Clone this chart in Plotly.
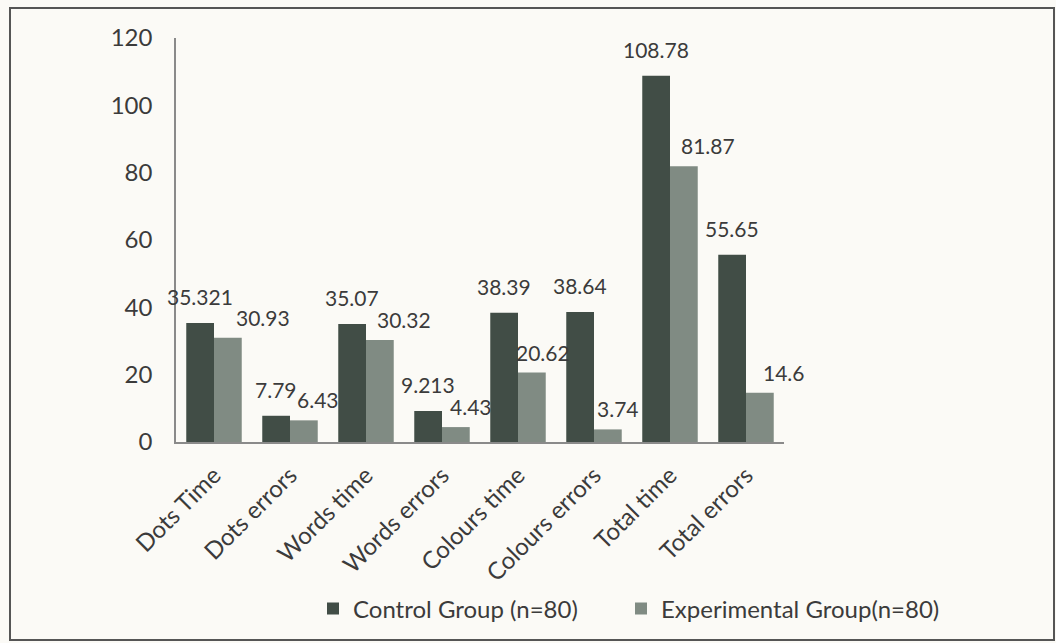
import plotly.graph_objects as go

# Stroop-type task measures per group
categories = ["Dots Time", "Dots errors", "Words time", "Words errors",
              "Colours time", "Colours errors", "Total time", "Total errors"]
control = [35.321, 7.79, 35.07, 9.213, 38.39, 38.64, 108.78, 55.65]
experimental = [30.93, 6.43, 30.32, 4.43, 20.62, 3.74, 81.87, 14.6]
control_text = ["35.321", "7.79", "35.07", "9.213", "38.39", "38.64", "108.78", "55.65"]
experimental_text = ["30.93", "6.43", "30.32", "4.43", "20.62", "3.74", "81.87", "14.6"]
y_ticks = [0, 20, 40, 60, 80, 100, 120]

FONT = "Lato"
TEXT = "#3b3b3b"
DARK = "#414d46"
LIGHT = "#808b83"
BG = "#fbfaf6"

# horizontal nudges (px) of the experimental-group labels, right of their bars
exp_label_nudge = [35, 14, 24, 15, 11, 10, 24, 24]
HALF_BAR = 14  # half a bar width in px

fig = go.Figure()
fig.add_bar(x=categories, y=control, name="Control Group (n=80)",
            marker=dict(color=DARK, line=dict(width=0)), legend="legend")
fig.add_bar(x=categories, y=experimental, name="Experimental Group(n=80)",
            marker=dict(color=LIGHT, line=dict(width=0)), legend="legend2")

# value labels above the bars
annotations = []
for cat, v, t in zip(categories, control, control_text):
    annotations.append(dict(x=cat, y=v, text=t, xref="x", yref="y",
                            showarrow=False, yanchor="bottom",
                            xshift=-HALF_BAR, yshift=12,
                            font=dict(family=FONT, size=21, color=TEXT)))
for cat, v, t, dx in zip(categories, experimental, experimental_text, exp_label_nudge):
    annotations.append(dict(x=cat, y=v, text=t, xref="x", yref="y",
                            showarrow=False, yanchor="bottom",
                            xshift=HALF_BAR + dx, yshift=6,
                            font=dict(family=FONT, size=21, color=TEXT)))

legend_style = dict(orientation="h", xref="container", yref="container",
                    y=1 - 609 / 643, xanchor="left", yanchor="middle",
                    font=dict(family=FONT, size=24, color=TEXT),
                    itemwidth=30, bgcolor="rgba(0,0,0,0)")

fig.update_layout(
    width=1056, height=643,
    margin=dict(l=176, r=272, t=38, b=201, autoexpand=False),
    paper_bgcolor=BG, plot_bgcolor=BG,
    barmode="group", bargap=0.27, bargroupgap=0,
    font=dict(family=FONT, color=TEXT),
    annotations=annotations,
    showlegend=True,
    legend=dict(x=313 / 1056, **legend_style),
    legend2=dict(x=621 / 1056, **legend_style),
    xaxis=dict(range=[-0.5, 7.5], showline=True, linecolor="#8a8a8a", linewidth=1.5,
               tickangle=-45, tickfont=dict(family=FONT, size=24, color=TEXT),
               showgrid=False, ticks="", ticklabelstandoff=8, automargin=False),
    yaxis=dict(range=[0, 120], tickvals=y_ticks, showline=True,
               linecolor="#8a8a8a", linewidth=1.5, showgrid=False,
               zeroline=False, ticks="", ticklabelstandoff=17, automargin=False,
               tickfont=dict(family=FONT, size=24, color=TEXT)),
    shapes=[dict(type="rect", xref="paper", yref="paper",
                 x0=-166 / 608, x1=878 / 608, y0=-198 / 404, y1=434 / 404,
                 line=dict(color="#555555", width=2), fillcolor="rgba(0,0,0,0)")],
)

fig.write_html("out.html")
